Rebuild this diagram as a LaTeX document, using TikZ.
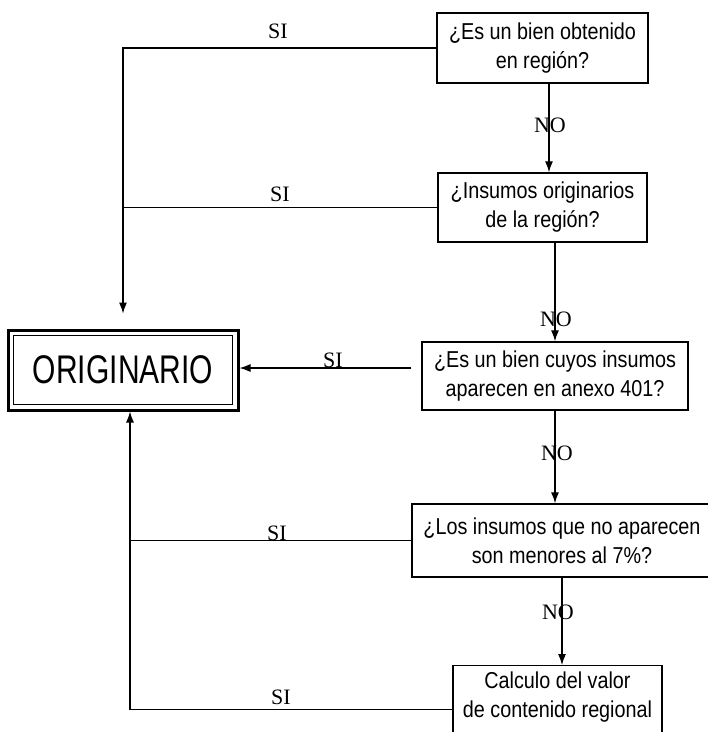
\documentclass[tikz,border=0pt]{standalone}
\usepackage{fontspec}
\setmainfont{Liberation Serif}
\newfontfamily\boxfont[FakeStretch=0.86]{Liberation Sans}
\newfontfamily\bigfont[FakeStretch=0.75]{Liberation Sans}
\usetikzlibrary{arrows.meta,calc}

\begin{document}
\begin{tikzpicture}[x=1pt,y=-1pt,
  qbox/.style={draw,line width=1.4pt,align=center,inner sep=0pt,
    font=\boxfont\fontsize{23}{29}\selectfont},
  origbox/.style={draw,line width=3pt,minimum width=230pt,minimum height=80pt,
    inner sep=0pt,font=\bigfont\fontsize{40}{44}\selectfont},
  lnk/.style={line width=1.2pt},
  arr/.style={line width=1.2pt,-{Latex[length=11pt,width=8pt]}},
  lbl/.style={inner sep=0pt,font=\fontsize{22}{24}\selectfont}]
\clip (0,0) rectangle (708,732);

\node[qbox,minimum width=211pt,minimum height=70pt] (q1) at (542.5,48)
  {¿Es un bien obtenido\\en región?};
\node[qbox,minimum width=209pt,minimum height=69pt] (q2) at (542.5,207.5)
  {¿Insumos originarios\\de la región?};
\node[qbox,minimum width=266pt,minimum height=68pt] (q3) at (555,376)
  {¿Es un bien cuyos insumos\\aparecen en anexo 401?};
\node[qbox,minimum width=300pt,minimum height=73pt] (q4) at (562,540.5)
  {¿Los insumos que no aparecen\\son menores al 7\%?};
\node[qbox,minimum width=209pt,anchor=north,inner sep=6pt,text depth=30pt] (q5)
  at (557.5,665) {Calculo del valor\\de contenido regional};

\node[origbox] (orig) at (123,370) {ORIGINARIO};
\draw[line width=1.2pt] ($(orig.north west)+(7,7)$) rectangle ($(orig.south east)+(-7,-7)$);

\coordinate (t1) at ([yshift=15pt]orig.north);
\coordinate (jn) at ([xshift=7pt]orig.south |- q4.west);

% SI branches
\draw[arr] (q1.west) -| (t1);
\draw[lnk] (q2.west) -- (q2.west -| t1);
\draw[arr,shorten <=10pt] ([yshift=2pt]q3.west |- orig.east) -- ([yshift=2pt]orig.east);
\draw[arr] (q4.west) -| ([xshift=7pt]orig.south);
\draw[lnk] (q5.west) -| (jn);

% NO branches
\draw[arr] ([xshift=6.5pt]q1.south) -- ([xshift=6.5pt]q2.north);
\draw[arr] (q3.north |- q2.south) -- (q3.north);
\draw[arr] (q3.south) -- (q3.south |- q4.north);
\draw[arr] (q4.south) -- (q4.south |- q5.north);

\node[lbl] (si1) at (278,31) {SI};
\node[lbl] (si2) at (280,194) {SI};
\node[lbl] (si3) at (333,360) {SI};
\node[lbl] (si4) at (277,533) {SI};
\node[lbl] (si5) at (281,697) {SI};

\node[lbl] (no1) at (550,125) {NO};
\node[lbl] (no2) at (556,319) {NO};
\node[lbl] (no3) at (557,453) {NO};
\node[lbl] (no4) at (558,612) {NO};
\end{tikzpicture}
\end{document}
